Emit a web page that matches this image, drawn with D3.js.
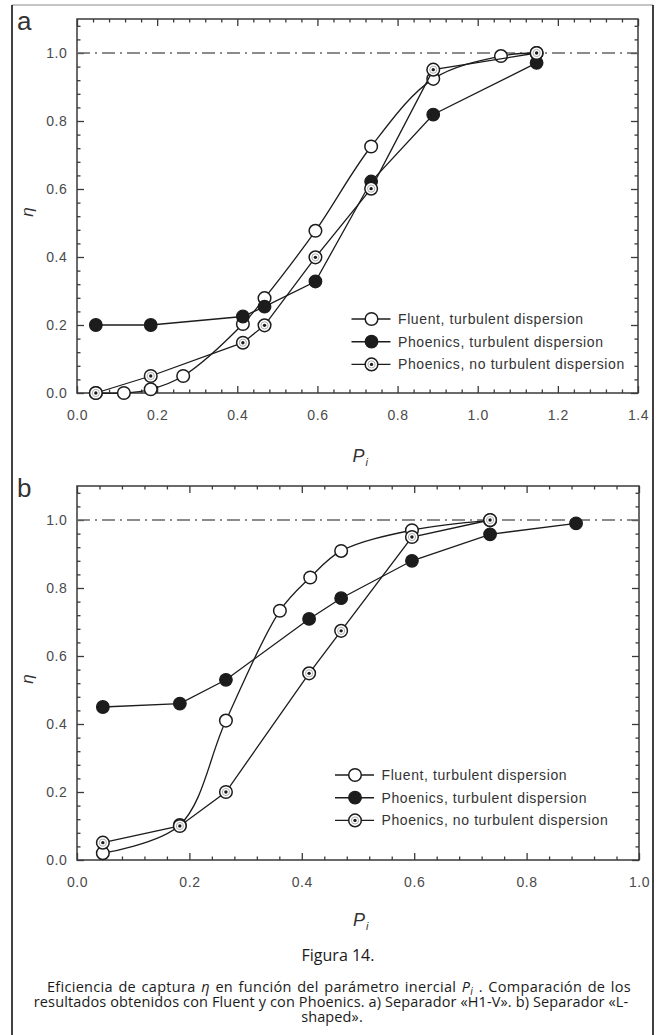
<!DOCTYPE html>
<html>
<head>
<meta charset="utf-8">
<script src="https://cdn.jsdelivr.net/npm/d3@7/dist/d3.min.js"></script>
<style>
  html, body { margin: 0; padding: 0; background: #fff; }
  svg { display: block; }
</style>
</head>
<body>
<svg id="fig" width="661" height="1035"></svg>
<script>
// ---- Panel a: separator "H1-V" ----
const aFluentX   = [0.047, 0.117, 0.184, 0.265, 0.414, 0.468, 0.595, 0.734, 0.889, 1.058, 1.147];
const aFluentY   = [0.000, 0.000, 0.011, 0.050, 0.203, 0.279, 0.477, 0.725, 0.924, 0.991, 1.000];
const aPhoenicsX = [0.047, 0.184, 0.414, 0.468, 0.595, 0.734, 0.889, 1.147];
const aPhoenicsY = [0.200, 0.200, 0.225, 0.254, 0.328, 0.622, 0.819, 0.971];
const aNoTurbX   = [0.047, 0.184, 0.414, 0.468, 0.595, 0.734, 0.889, 1.147];
const aNoTurbY   = [0.000, 0.050, 0.148, 0.199, 0.399, 0.601, 0.951, 1.000];

// ---- Panel b: separator "L-shaped" ----
const bFluentX   = [0.046, 0.183, 0.265, 0.361, 0.415, 0.470, 0.596, 0.735];
const bFluentY   = [0.020, 0.103, 0.410, 0.733, 0.831, 0.909, 0.970, 0.999];
const bPhoenicsX = [0.046, 0.183, 0.265, 0.413, 0.470, 0.596, 0.735, 0.888];
const bPhoenicsY = [0.450, 0.460, 0.530, 0.709, 0.770, 0.880, 0.958, 0.990];
const bNoTurbX   = [0.046, 0.183, 0.265, 0.413, 0.470, 0.596, 0.735];
const bNoTurbY   = [0.051, 0.100, 0.200, 0.549, 0.674, 0.950, 1.000];

// Axis ticks
const aXTicks = [0.0, 0.2, 0.4, 0.6, 0.8, 1.0, 1.2, 1.4];
const bXTicks = [0.0, 0.2, 0.4, 0.6, 0.8, 1.0];
const yTicks  = [0.0, 0.2, 0.4, 0.6, 0.8, 1.0];

const seriesNames = [
  "Fluent, turbulent dispersion",
  "Phoenics, turbulent dispersion",
  "Phoenics, no turbulent dispersion"
];

const svg = d3.select("#fig");
svg.append("rect").attr("width", 661).attr("height", 1035).attr("fill", "#fff");

// outer frame of the figure
const frame = svg.append("g");
frame.append("line").attr("x1", 12).attr("x2", 653).attr("y1", 5).attr("y2", 5)
  .attr("stroke", "#8a8a8a").attr("stroke-width", 1);
frame.append("line").attr("x1", 12).attr("x2", 12).attr("y1", 5).attr("y2", 1035)
  .attr("stroke", "#111").attr("stroke-width", 1.6);
frame.append("line").attr("x1", 653).attr("x2", 653).attr("y1", 5).attr("y2", 1035)
  .attr("stroke", "#111").attr("stroke-width", 1.6);

const INK = "#1c1c1c";
const AXIS = "#3a3a3a";
const FONT = "'Liberation Sans', Arial, Helvetica, sans-serif";

function zip(xs, ys) { return xs.map((x, i) => ({ x: x, y: ys[i] })); }

function minorTicks(max, step, majors) {
  const out = [];
  for (let i = 1; i * step < max - 1e-9; i++) {
    const v = +(i * step).toFixed(4);
    if (!majors.some(m => Math.abs(m - v) < 1e-6)) out.push(v);
  }
  return out;
}

function drawMarker(g, kind, cx, cy) {
  if (kind === "filled") {
    g.append("circle").attr("cx", cx).attr("cy", cy).attr("r", 6.3)
      .attr("fill", INK).attr("stroke", INK).attr("stroke-width", 1.2);
  } else {
    g.append("circle").attr("cx", cx).attr("cy", cy).attr("r", 6.3)
      .attr("fill", "#fff").attr("stroke", INK).attr("stroke-width", 1.5);
    if (kind === "dot") {
      g.append("circle").attr("cx", cx).attr("cy", cy).attr("r", 3.6)
        .attr("fill", "none").attr("stroke", "#9a9a9a").attr("stroke-width", 0.8);
      g.append("circle").attr("cx", cx).attr("cy", cy).attr("r", 1.7).attr("fill", INK);
    }
  }
}

function drawPanel(cfg) {
  const g = svg.append("g");
  const x = d3.scaleLinear().domain([0, cfg.xMax]).range([cfg.left, cfg.right]);
  const y = d3.scaleLinear().domain([0, 1.1]).range([cfg.bottom, cfg.top]);
  const fmt = d3.format(".1f");

  const xMinor = minorTicks(cfg.xMax, 0.04, cfg.xTicks);
  const yMinor = minorTicks(1.1, 0.04, yTicks);

  function styleAxis(sel) {
    sel.select(".domain").remove();
    sel.selectAll(".tick line").attr("stroke", AXIS).attr("stroke-width", 1.3);
    sel.selectAll(".tick text").attr("fill", "#4a4a4a").attr("font-family", FONT)
      .attr("font-size", 14).attr("letter-spacing", 0.6);
  }

  // bottom
  g.append("g").attr("transform", `translate(0,${cfg.bottom})`)
    .call(d3.axisBottom(x).tickValues(cfg.xTicks).tickSize(-7).tickPadding(17).tickFormat(fmt))
    .call(styleAxis);
  g.append("g").attr("transform", `translate(0,${cfg.bottom})`)
    .call(d3.axisBottom(x).tickValues(xMinor).tickSize(-3.5).tickFormat(""))
    .call(styleAxis);
  // top
  g.append("g").attr("transform", `translate(0,${cfg.top})`)
    .call(d3.axisTop(x).tickValues(cfg.xTicks).tickSize(-7).tickFormat(""))
    .call(styleAxis);
  g.append("g").attr("transform", `translate(0,${cfg.top})`)
    .call(d3.axisTop(x).tickValues(xMinor).tickSize(-3.5).tickFormat(""))
    .call(styleAxis);
  // left
  g.append("g").attr("transform", `translate(${cfg.left},0)`)
    .call(d3.axisLeft(y).tickValues(yTicks).tickSize(-7).tickPadding(9.5).tickFormat(fmt))
    .call(styleAxis);
  g.append("g").attr("transform", `translate(${cfg.left},0)`)
    .call(d3.axisLeft(y).tickValues(yMinor).tickSize(-3.5).tickFormat(""))
    .call(styleAxis);
  // right
  g.append("g").attr("transform", `translate(${cfg.right},0)`)
    .call(d3.axisRight(y).tickValues(yTicks).tickSize(-7).tickFormat(""))
    .call(styleAxis);
  g.append("g").attr("transform", `translate(${cfg.right},0)`)
    .call(d3.axisRight(y).tickValues(yMinor).tickSize(-3.5).tickFormat(""))
    .call(styleAxis);

  // plot frame
  g.append("rect").attr("x", cfg.left).attr("y", cfg.top)
    .attr("width", cfg.right - cfg.left).attr("height", cfg.bottom - cfg.top)
    .attr("fill", "none").attr("stroke", AXIS).attr("stroke-width", 1.5);

  // eta = 1 reference line
  g.append("line").attr("x1", cfg.left).attr("x2", cfg.right)
    .attr("y1", y(1)).attr("y2", y(1))
    .attr("stroke", "#666").attr("stroke-width", 1.7)
    .attr("stroke-dasharray", "13 5 2 5");

  // series
  const series = [
    { data: zip(cfg.fluentX, cfg.fluentY), kind: "open", curve: d3.curveCatmullRom.alpha(0.5) },
    { data: zip(cfg.phoenicsX, cfg.phoenicsY), kind: "filled", curve: d3.curveLinear },
    { data: zip(cfg.noTurbX, cfg.noTurbY), kind: "dot", curve: d3.curveLinear }
  ];
  series.forEach(s => {
    const line = d3.line().x(d => x(d.x)).y(d => y(d.y)).curve(s.curve);
    g.append("path").datum(s.data).attr("d", line)
      .attr("fill", "none").attr("stroke", INK).attr("stroke-width", 1.3);
    s.data.forEach(d => drawMarker(g, s.kind, x(d.x), y(d.y)));
  });

  // legend
  const lg = g.append("g");
  series.forEach((s, i) => {
    const cy = cfg.legendY + i * 22.7;
    const mx = cfg.legendX;
    lg.append("line").attr("x1", mx - 20).attr("x2", mx + 19).attr("y1", cy).attr("y2", cy)
      .attr("stroke", INK).attr("stroke-width", 1.4);
    drawMarker(lg, s.kind, mx, cy);
    lg.append("text").attr("x", mx + 26.5).attr("y", cy).attr("dy", "0.36em")
      .attr("font-family", FONT).attr("font-size", 14).attr("letter-spacing", 0.6)
      .attr("fill", "#333").text(seriesNames[i]);
  });

  // panel letter
  g.append("text").attr("x", 17).attr("y", cfg.top + 11)
    .attr("font-family", FONT).attr("font-size", 26).attr("fill", "#333").text(cfg.letter);

  // y label (eta)
  const midY = (cfg.top + cfg.bottom) / 2 + 6;
  g.append("text").attr("transform", `translate(33,${midY}) rotate(-90)`)
    .attr("text-anchor", "middle").attr("font-family", FONT).attr("font-style", "italic")
    .attr("font-size", 17).attr("fill", "#333").text("η");

  // x label (P_i)
  const xl = g.append("text").attr("x", (cfg.left + cfg.right) / 2 - 5).attr("y", cfg.bottom + cfg.xLabelGap)
    .attr("font-family", FONT).attr("font-style", "italic").attr("font-size", 18).attr("fill", "#333");
  xl.append("tspan").text("P");
  xl.append("tspan").attr("font-size", 11).attr("dy", 4).attr("dx", 1).text("i");
}

drawPanel({
  letter: "a", left: 77, right: 638, top: 19, bottom: 393, xMax: 1.4, xTicks: aXTicks,
  fluentX: aFluentX, fluentY: aFluentY, phoenicsX: aPhoenicsX, phoenicsY: aPhoenicsY,
  noTurbX: aNoTurbX, noTurbY: aNoTurbY, legendX: 371.5, legendY: 319, xLabelGap: 69
});

drawPanel({
  letter: "b", left: 77, right: 639, top: 486, bottom: 860, xMax: 1.0, xTicks: bXTicks,
  fluentX: bFluentX, fluentY: bFluentY, phoenicsX: bPhoenicsX, phoenicsY: bPhoenicsY,
  noTurbX: bNoTurbX, noTurbY: bNoTurbY, legendX: 355, legendY: 775, xLabelGap: 66
});

// caption
const CAP = "'Open Sans', 'Noto Sans', sans-serif";
svg.append("text").attr("x", 338).attr("y", 955).attr("dy", "0.35em").attr("text-anchor", "middle")
  .attr("font-family", CAP).attr("font-size", 16).attr("fill", "#1a1a1a").text("Figura 14.");

function capLine(xPos, yPos) {
  return svg.append("text").attr("x", xPos).attr("y", yPos).attr("dy", "0.35em")
    .attr("text-anchor", "middle").attr("font-family", CAP).attr("font-size", 14.5)
    .attr("letter-spacing", 0.12).attr("fill", "#1a1a1a");
}

const cap1 = capLine(339, 987).attr("letter-spacing", 0.3).attr("word-spacing", 1.5);
cap1.append("tspan").text("Eficiencia de captura ");
cap1.append("tspan").attr("font-style", "italic").text("η");
cap1.append("tspan").text(" en función del parámetro inercial ");
cap1.append("tspan").attr("font-style", "italic").text("P");
cap1.append("tspan").attr("font-style", "italic").attr("font-size", 10).attr("dy", 3).text("i");
cap1.append("tspan").attr("dy", -3).text(" . Comparación de los");

capLine(331, 1002).text("resultados obtenidos con Fluent y con Phoenics. a) Separador «H1-V». b) Separador «L-");
capLine(332, 1017).text("shaped».");
</script>
</body>
</html>
